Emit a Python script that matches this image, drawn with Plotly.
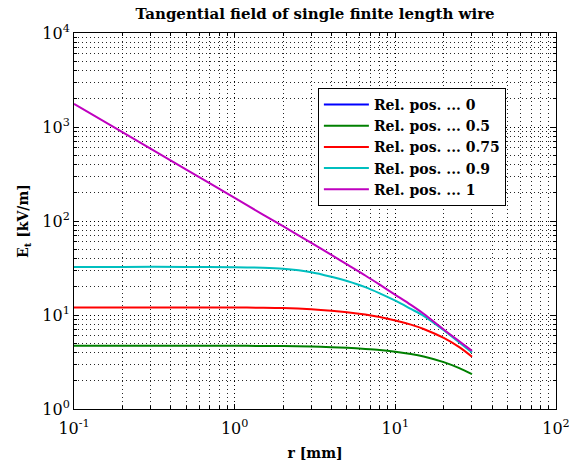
import plotly.graph_objects as go

# Data
r_mm = [0.1, 0.2, 0.5, 1, 1.5, 2, 3, 4, 5, 6.5, 8, 10, 12.5, 15, 20, 25, 30]
labels = ["Rel. pos. ... 0", "Rel. pos. ... 0.5", "Rel. pos. ... 0.75",
          "Rel. pos. ... 0.9", "Rel. pos. ... 1"]
e_pos0 = [0] * 17
e_pos05 = [4.7, 4.7, 4.7, 4.7, 4.69, 4.68, 4.62, 4.55, 4.47, 4.36, 4.25, 4.07, 3.85, 3.62, 3.15, 2.72, 2.35]
e_pos075 = [12.0, 12.0, 12.0, 12.0, 11.95, 11.85, 11.5, 11.1, 10.7, 10.1, 9.5, 8.75, 7.9, 7.1, 5.7, 4.55, 3.6]
e_pos09 = [32.5, 32.5, 32.5, 32.2, 31.8, 31.0, 28.5, 25.5, 23.0, 19.8, 17.0, 14.2, 11.6, 9.8, 6.9, 5.1, 4.0]
e_pos1 = [1760, 880, 352, 176, 117, 88, 58.5, 43.5, 34.5, 26.3, 21.0, 16.4, 12.8, 10.3, 7.0, 5.25, 4.15]
series = [e_pos0, e_pos05, e_pos075, e_pos09, e_pos1]
colors = ["rgb(0,0,255)", "rgb(0,128,0)", "rgb(255,0,0)", "rgb(0,191,191)", "rgb(191,0,191)"]

x_tickvals = [0.1, 1, 10, 100]
x_ticktext = ["10<sup>-1</sup>", "10<sup>0</sup>", "10<sup>1</sup>", "10<sup>2</sup>"]
y_tickvals = [1, 10, 100, 1000, 10000]
y_ticktext = ["10<sup>0</sup>", "10<sup>1</sup>", "10<sup>2</sup>", "10<sup>3</sup>", "10<sup>4</sup>"]

SERIF = "DejaVu Serif, Liberation Serif, serif"

fig = go.Figure()
for name, vals, col in zip(labels, series, colors):
    fig.add_trace(go.Scatter(
        x=r_mm, y=[v if v > 0 else None for v in vals], name="<b>" + name + "</b>", mode="lines",
        line=dict(color=col, width=2, shape="spline", smoothing=0.8), connectgaps=False,
    ))

axis_common = dict(
    type="log", showline=True, linecolor="black", linewidth=1, mirror="allticks",
    ticks="inside", ticklen=5, tickcolor="black", automargin=False,
    showgrid=True, gridcolor="black", griddash="1px,3px", gridwidth=1,
    zeroline=False,
    minor=dict(dtick="D1", ticks="inside", ticklen=3, tickcolor="black", showgrid=True,
               gridcolor="rgba(0,0,0,0.85)", griddash="1px,3px", gridwidth=1),
    tickfont=dict(family=SERIF, size=16, color="black"),
)

fig.update_xaxes(range=[-1, 2], tickvals=x_tickvals, ticktext=x_ticktext, ticklabelstandoff=5,
                 title=dict(text="<b>r [mm]</b>", font=dict(family=SERIF, size=14, color="black"), standoff=10),
                 **axis_common)
fig.update_yaxes(range=[0, 4], tickvals=y_tickvals, ticktext=y_ticktext,
                 title=dict(text="<b>E<sub>t</sub> [kV/m]</b>", font=dict(family=SERIF, size=14, color="black"), standoff=10),
                 **axis_common)

fig.update_layout(
    width=576, height=463,
    margin=dict(l=74, r=20, t=33, b=54, autoexpand=False),
    paper_bgcolor="white", plot_bgcolor="white",
    title=dict(text="<b>Tangential field of single finite length wire</b>",
               x=0.547, xanchor="center", y=0.97, yanchor="middle",
               font=dict(family=SERIF, size=15, color="black")),
    legend=dict(x=0.506, y=0.854, xanchor="left", yanchor="top",
                bgcolor="white", bordercolor="black", borderwidth=1,
                font=dict(family=SERIF, size=14, color="black"),
                itemwidth=45, tracegroupgap=0),
    showlegend=True,
)

fig.write_html("out.html")
